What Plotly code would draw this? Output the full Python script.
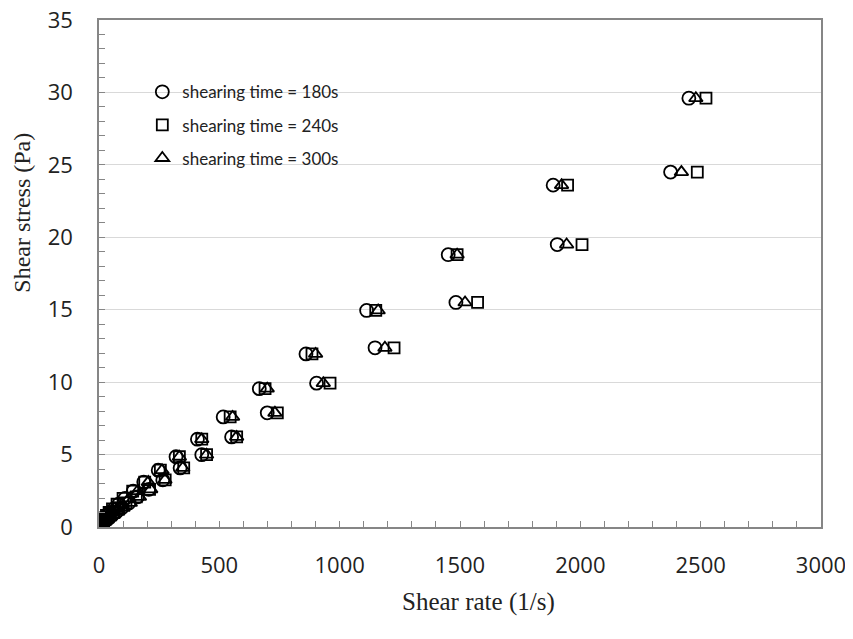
import plotly.graph_objects as go

# Shear stress levels (Pa) (two branches)
stress_upper = [29.6, 23.6, 18.8, 14.95, 11.95, 9.55, 7.6, 6.06, 4.85, 3.92, 3.1, 2.47,
                1.97, 1.57, 1.25, 1.0, 0.8, 0.63, 0.5, 0.4, 0.32, 0.25, 0.12]
stress_lower = [24.5, 19.5, 15.5, 12.37, 9.93, 7.88, 6.22, 4.99, 4.08, 3.25, 2.6, 2.08,
                1.66, 1.32, 1.05, 0.84, 0.67, 0.53, 0.42, 0.34, 0.27, 0.2, 0.1]

# Shear rates (1/s) for each shearing time
rate_180_upper = [2451, 1887, 1451, 1112, 860, 666, 516, 409, 320, 246, 186, 142,
                  108, 82, 62, 47, 35, 26, 19, 14, 10, 7, 3]
rate_180_lower = [2375, 1904, 1483, 1147, 904, 699, 551, 427, 337, 265, 207, 160,
                  124, 95, 73, 56, 43, 33, 25, 19, 14, 10, 4]
rate_240_upper = [2522, 1947, 1488, 1150, 885, 690, 545, 427, 334, 255, 190, 140,
                  100, 75, 56, 42, 31, 23, 17, 12, 8, 5, 2]
rate_240_lower = [2486, 2007, 1573, 1226, 960, 741, 572, 447, 352, 275, 210, 155,
                  112, 82, 62, 46, 35, 26, 19, 14, 10, 6, 2]
rate_300_upper = [2480, 1922, 1488, 1160, 900, 699, 555, 427, 334, 262, 205, 160,
                  125, 97, 75, 58, 45, 34, 26, 20, 15, 11, 4]
rate_300_lower = [2420, 1943, 1521, 1188, 932, 731, 572, 447, 348, 274, 215, 168,
                  130, 100, 77, 59, 45, 35, 27, 20, 15, 11, 3]

series_names = ["shearing time = 180s", "shearing time = 240s", "shearing time = 300s"]
series_symbols = ["circle-open", "square-open", "triangle-up-open"]
series_sizes = [13, 11, 12]

rates = [
    rate_180_upper + rate_180_lower,
    rate_240_upper + rate_240_lower,
    rate_300_upper + rate_300_lower,
]
stresses = stress_upper + stress_lower

fig = go.Figure()
for i, name in enumerate(series_names):
    fig.add_trace(go.Scatter(
        x=rates[i], y=stresses, mode="markers", name=name,
        legendgroup=str(i),
        marker=dict(symbol=series_symbols[i], size=series_sizes[i], color="black",
                    line=dict(color="black", width=1.8)),
    ))

tick_font = dict(family="Open Sans", size=22, color="#222222")

fig.update_layout(
    width=845, height=631,
    margin=dict(l=91, r=32, t=12, b=112, autoexpand=False),
    paper_bgcolor="white", plot_bgcolor="white",
    showlegend=True,
    legend=dict(x=0.06, y=0.893, xanchor="left", yanchor="top",
                bgcolor="rgba(0,0,0,0)", borderwidth=0,
                font=dict(family="Lato", size=17, color="#222222"),
                tracegroupgap=8, itemwidth=30),
    annotations=[
        dict(text="Shear rate (1/s)", xref="paper", yref="paper",
             x=0.525, y=-0.1484, xanchor="center", yanchor="middle",
             showarrow=False,
             font=dict(family="Liberation Serif", size=25, color="#222222")),
        dict(text="Shear stress (Pa)", xref="paper", yref="paper",
             x=-0.1066, y=0.62, xanchor="center", yanchor="middle",
             textangle=-90, showarrow=False,
             font=dict(family="Liberation Serif", size=24, color="#222222")),
    ],
)

fig.update_xaxes(
    range=[0, 3000], dtick=500, tick0=0, automargin=False,
    showgrid=False, zeroline=False,
    showline=True, linecolor="#868686", linewidth=1.5, mirror=True,
    ticks="inside", ticklen=6, tickcolor="#868686", tickwidth=1,
    minor=dict(dtick=100, ticks="inside", ticklen=6, tickcolor="#868686", tickwidth=1),
    tickfont=tick_font, ticklabelstandoff=18, ticklabeloverflow="allow",
)
fig.update_yaxes(
    range=[0, 35], dtick=5, tick0=0, automargin=False,
    showgrid=True, gridcolor="#d9d9d9", gridwidth=1, zeroline=False,
    showline=True, linecolor="#868686", linewidth=1.5, mirror=True,
    ticks="inside", ticklen=6, tickcolor="#868686", tickwidth=1,
    minor=dict(dtick=1, ticks="inside", ticklen=6, tickcolor="#868686", tickwidth=1,
               showgrid=False),
    tickfont=tick_font, ticklabelstandoff=20, ticklabeloverflow="allow",
)

fig.write_html("out.html")
